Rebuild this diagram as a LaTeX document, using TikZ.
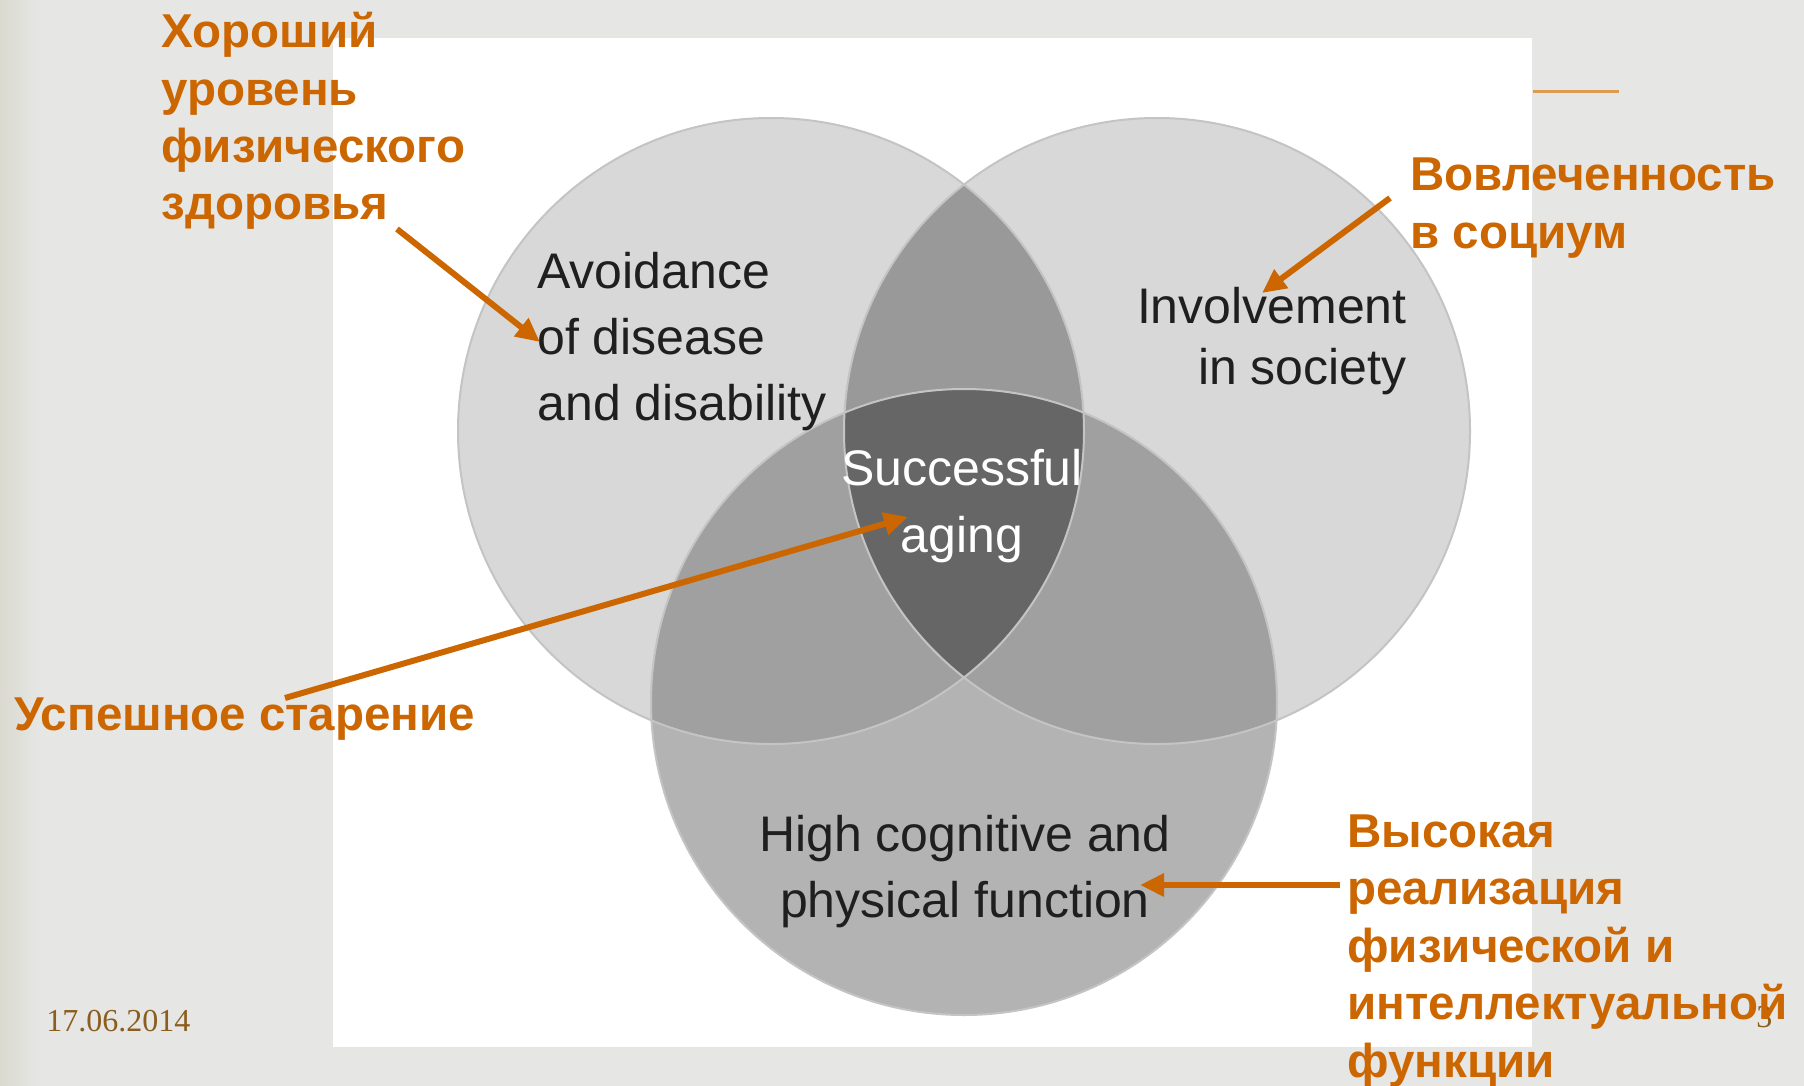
\documentclass[tikz,border=0pt]{standalone}
\usepackage{fontspec}
\setmainfont{Liberation Sans}
\newfontfamily\datefont{Liberation Serif}
\usetikzlibrary{arrows.meta}
\definecolor{labelorange}{RGB}{204,102,0}
\definecolor{lineorange}{RGB}{222,155,80}
\definecolor{datebrown}{RGB}{139,94,31}
\definecolor{slidegray}{RGB}{230,230,229}
\definecolor{edgebeige}{RGB}{218,218,208}
\definecolor{onegray}{RGB}{216,216,216}
\definecolor{lowgray}{RGB}{179,179,179}
\definecolor{topgray}{RGB}{153,153,153}
\definecolor{sidegray}{RGB}{160,160,160}
\definecolor{coregray}{RGB}{102,102,102}
\definecolor{rimgray}{RGB}{196,196,196}
\begin{document}
\begin{tikzpicture}[x=0.5pt,y=-0.5pt,
    rulabel/.style={text=labelorange,font=\bfseries\fontsize{23.75}{28.75}\selectfont,inner sep=0pt,align=left,anchor=base west},
    enlabel/.style={text=black!88,font=\fontsize{25}{33}\selectfont,inner sep=0pt},
    pointer/.style={labelorange,line width=3pt,-{Triangle[length=12pt,width=11pt]}}]
  \useasboundingbox (0,0) rectangle (1804,1086);
  \fill[slidegray] (0,0) rectangle (1804,1086);
  \shade[left color=edgebeige,right color=slidegray] (0,0) rectangle (40,1086);
  \fill[white] (333,38) rectangle (1532,1047);
  \draw[lineorange,line width=1.5pt] (1533,92) -- (1619,92);
  \coordinate (cl) at (771,431);
  \coordinate (cr) at (1157,431);
  \coordinate (cb) at (964,702);
  \fill[onegray] (cl) circle[radius=313];
  \fill[onegray] (cr) circle[radius=313];
  \fill[lowgray] (cb) circle[radius=313];
  \begin{scope}
    \clip (cl) circle[radius=313];
    \fill[topgray] (cr) circle[radius=313];
    \fill[sidegray] (cb) circle[radius=313];
    \clip (cr) circle[radius=313];
    \fill[coregray] (cb) circle[radius=313];
  \end{scope}
  \begin{scope}
    \clip (cr) circle[radius=313];
    \fill[sidegray] (cb) circle[radius=313];
    \clip (cl) circle[radius=313];
    \fill[coregray] (cb) circle[radius=313];
  \end{scope}
  \draw[rimgray,line width=1pt] (cl) circle[radius=313] (cr) circle[radius=313] (cb) circle[radius=313];
  \node[enlabel,align=left,anchor=base west] (avoid) at (537,420) {Avoidance\\of disease\\and disability};
  \node[enlabel,align=right,anchor=base east,font=\fontsize{25}{30.5}\selectfont] (society) at (1407,384) {Involvement\\in society};
  \node[enlabel,align=center,anchor=base,text=white,font=\fontsize{25}{33.5}\selectfont] (success) at (962,552) {Successful\\aging};
  \node[enlabel,align=center,anchor=base] (function) at (965,917) {High cognitive and\\physical function};
  \node[text=datebrown,font=\datefont\fontsize{16}{16}\selectfont,inner sep=0pt,anchor=base west] (date) at (46,1031) {17.06.2014};
  \node[text=datebrown,font=\datefont\fontsize{16}{16}\selectfont,inner sep=0pt,anchor=base west] (page) at (1756,1027) {3};
  \node[rulabel] (health) at (161,220) {Хороший\\уровень\\физического\\здоровья};
  \node[rulabel] (involve) at (1410,248) {Вовлеченность\\в социум};
  \node[rulabel] (aging) at (14,730) {Успешное старение};
  \node[rulabel] (realize) at (1347,1077) {Высокая\\реализация\\физической и\\интеллектуальной\\функции};
  \coordinate (healthstart) at (397,229);
  \coordinate (healthtip) at (540,342);
  \coordinate (involvestart) at (1390,198);
  \coordinate (involvetip) at (1262,293);
  \coordinate (agingstart) at (285,698);
  \coordinate (agingtip) at (908,517);
  \coordinate (realizestart) at (1340,885);
  \coordinate (realizetip) at (1140,885);
  \draw[pointer] (healthstart) -- (healthtip);
  \draw[pointer] (involvestart) -- (involvetip);
  \draw[pointer] (agingstart) -- (agingtip);
  \draw[pointer] (realizestart) -- (realizetip);
\end{tikzpicture}
\end{document}
